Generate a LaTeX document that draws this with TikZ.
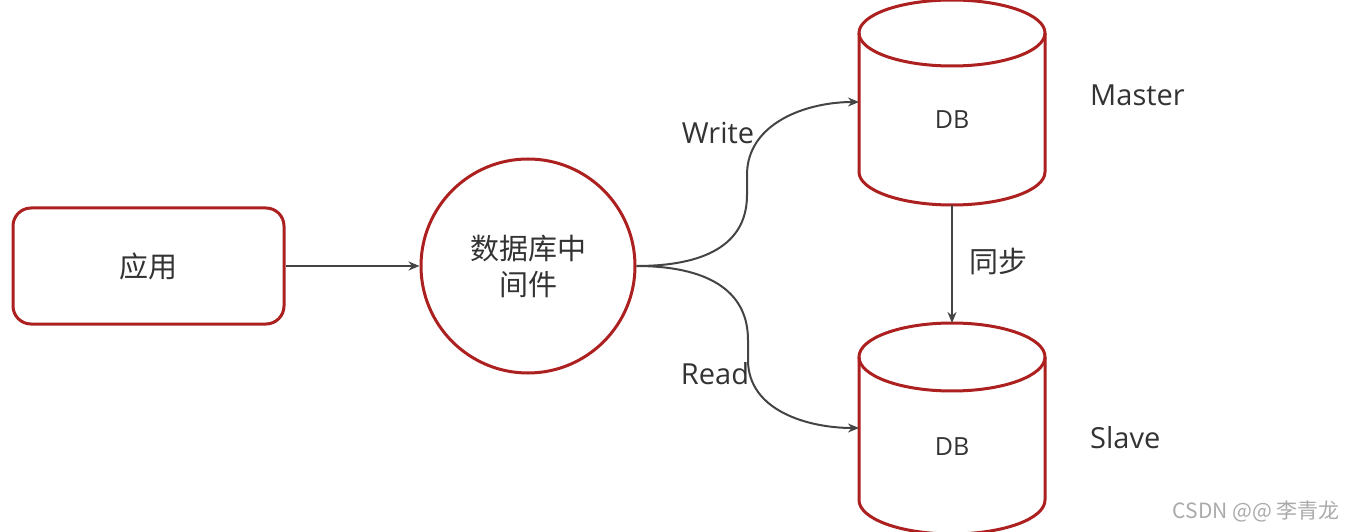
\documentclass[tikz,border=0pt]{standalone}
\usepackage{fontspec}
\setmainfont{Open Sans}
\newfontfamily\cjk{Noto Sans CJK SC}
\usetikzlibrary{arrows.meta}
\definecolor{bordred}{RGB}{172,32,32}
\definecolor{txt}{RGB}{51,51,51}
\definecolor{arr}{RGB}{68,68,68}
\definecolor{wm}{RGB}{170,170,170}
\tikzset{
  redline/.style={draw=bordred, line width=3pt},
  conn/.style={draw=arr, line width=2pt, -{Stealth[length=11pt,width=9pt]}},
  lbl/.style={text=txt, font=\fontsize{29}{32}\selectfont, inner sep=0pt},
  dblbl/.style={text=txt, font=\fontsize{25}{28}\selectfont, inner sep=0pt},
}
\begin{document}
\begin{tikzpicture}[x=1pt,y=-1pt]
\useasboundingbox (0,0) rectangle (1345,532);
% app box
\node[redline, rounded corners=18pt, minimum width=271pt, minimum height=116pt, inner sep=0pt,
      lbl, font=\cjk\fontsize{29}{32}\selectfont] (app) at (148.5,266) {应用};
% middleware circle
\node[redline, circle, minimum size=214pt, inner sep=0pt, lbl, align=center,
      font=\cjk\fontsize{29}{36}\selectfont] (mid) at (528,266) {数据库中\\间件};
% master cylinder
\draw[redline] (952,33) ellipse [x radius=93, y radius=33];
\draw[redline] (859,33) -- (859,172) arc[start angle=180, end angle=0, x radius=93, y radius=33] -- (1045,33);
\node[dblbl] (mdb) at (952,120) {DB};
\coordinate (mleft) at (859,102);
\coordinate (mbot) at (952,205);
% slave cylinder
\draw[redline] (952,357) ellipse [x radius=93, y radius=34];
\draw[redline] (859,357) -- (859,500) arc[start angle=180, end angle=0, x radius=93, y radius=34] -- (1045,357);
\node[dblbl] (sdb) at (952,447) {DB};
\coordinate (sleft) at (859,428);
\coordinate (stop) at (952,323);
% bend points of the curved connectors
\coordinate (w1) at (747,195);
\coordinate (w2) at (747,175);
\coordinate (r1) at (748,340);
\coordinate (r2) at (748,360);
% connectors
\draw[conn] (app.east) -- (mid.west);
\draw[conn] (mid.east) to[out=0,in=-90,looseness=1.1] (w1) -- (w2) to[out=90,in=180] (mleft);
\draw[conn] (mid.east) to[out=0,in=90,looseness=1.1] (r1) -- (r2) to[out=-90,in=180] (sleft);
\draw[conn] (mbot) -- (stop);
% labels
\node[lbl] (wr) at (718,133) {Write};
\node[lbl] (rd) at (715,374) {Read};
\node[lbl, font=\cjk\fontsize{29}{32}\selectfont] (sync) at (998,262) {同步};
\node[lbl, anchor=west] (ma) at (1090,95) {Master};
\node[lbl, anchor=west] (sl) at (1090,438) {Slave};
\node[text=wm, font=\cjk\fontsize{21}{24}\selectfont, inner sep=0pt, anchor=east] (wmk) at (1340,511) {CSDN @@ 李青龙};
\end{tikzpicture}
\end{document}
